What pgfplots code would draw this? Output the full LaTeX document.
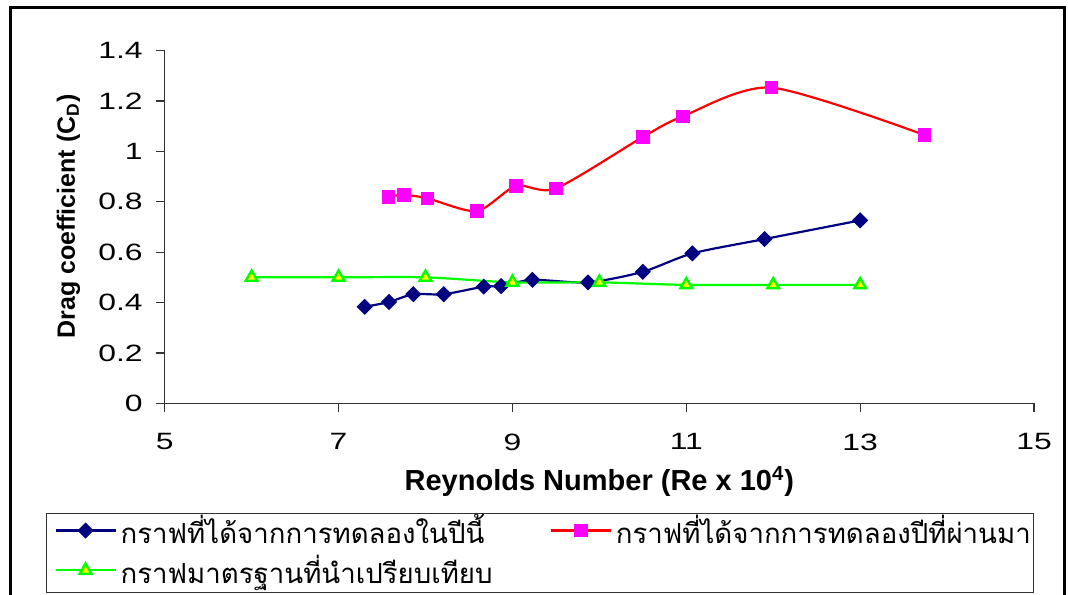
\documentclass[border=0pt]{standalone}
\usepackage{fontspec}
\usepackage{pgfplots}
\pgfplotsset{compat=1.18}
\setmainfont{Liberation Sans}
\newfontfamily\tickfont[FakeStretch=1.35]{Liberation Sans}
\newfontfamily\thaifont[Script=Thai]{Loma}

\definecolor{navyS}{RGB}{0,0,128}
\definecolor{magS}{RGB}{255,0,255}
\definecolor{redS}{RGB}{255,0,0}
\definecolor{limeS}{RGB}{0,255,0}
\definecolor{yelS}{RGB}{255,255,0}

% drag coefficient measured this year
\pgfplotstableread{
Re   Cd
7.30 0.383
7.58 0.402
7.86 0.433
8.21 0.433
8.67 0.463
8.87 0.465
9.23 0.490
9.87 0.480
10.50 0.522
11.07 0.595
11.90 0.652
13.00 0.726
}\thisyear
% drag coefficient measured last year
\pgfplotstableread{
Re   Cd
7.57 0.820
7.75 0.827
8.02 0.814
8.59 0.763
9.04 0.863
9.50 0.853
10.50 1.057
10.96 1.139
11.98 1.253
13.74 1.065
}\lastyear
% standard reference curve
\pgfplotstableread{
Re   Cd
6  0.50
7  0.50
8  0.50
9  0.48
10 0.48
11 0.47
12 0.47
13 0.47
}\standard

\begin{document}
\begin{tikzpicture}[x=1pt,y=1pt]
\useasboundingbox (0,0) rectangle (534,297);
% chart area border
\draw[line width=1.5pt] (5,-5) rectangle (532,293);
% legend frame
\draw[black!80, line width=0.5pt] (23,0.65) rectangle (516.5,40.5);
\begin{axis}[
  at={(82.35pt,95.35pt)}, anchor=south west,
  scale only axis, width=434.65pt, height=176.35pt,
  xmin=5, xmax=15, ymin=0, ymax=1.4,
  xtick={5,7,9,11,13,15},
  ytick={0,0.2,0.4,0.6,0.8,1,1.2,1.4},
  axis lines=left,
  axis line style={-, black!80, line width=0.6pt},
  tick align=outside,
  major tick length=4.5pt,
  tick style={black!80, line width=0.6pt},
  /pgf/number format/assume math mode=true,
  tick label style={font=\tickfont\fontsize{11.8}{13}\selectfont},
  xticklabel style={anchor=north, inner sep=0pt, yshift=-10.5pt},
  yticklabel style={anchor=east, inner sep=0pt, xshift=-6.35pt},
  every axis x label/.style={at={(axis description cs:0.5,-0.2478)}, anchor=base},
  every axis y label/.style={at={(axis description cs:-0.1032,0.5296)}, rotate=90, anchor=base},
  xlabel={\fontsize{14.5}{16}\selectfont\bfseries Reynolds Number (Re x 10\textsuperscript{4})},
  ylabel={\fontsize{12.5}{14}\selectfont\bfseries Drag coefficient (C\textsubscript{D})},
  legend columns=2,
  legend cell align=left,
  legend style={
    at={(axis description cs:-0.1388,-0.3025)}, anchor=north west,
    draw=none, fill=none,
    font=\thaifont\fontsize{13.8}{15}\selectfont,
    inner xsep=5pt, inner ysep=0pt, row sep=0pt,
    /tikz/every even column/.append style={column sep=26.5pt},
  },
  legend image code/.code={
    \draw[mark repeat=2, mark phase=2, #1]
      plot coordinates {(0pt,0pt) (15pt,0pt) (30pt,0pt)};
  },
]
\addplot[color=navyS, line width=1.1pt, smooth, tension=0.45,
  mark=square*, mark size=2.6pt,
  mark options={rotate=45, fill=navyS, draw=navyS, line width=0.5pt}]
  table[x=Re, y=Cd] {\thisyear};
\addlegendentry{กราฟที่ได้จากการทดลองในปีนี้}
\addplot[color=redS, line width=1.1pt, smooth, tension=0.45,
  mark=square*, mark size=3.1pt,
  mark options={fill=magS, draw=magS, line width=0.4pt}]
  table[x=Re, y=Cd] {\lastyear};
\addlegendentry{กราฟที่ได้จากการทดลองปีที่ผ่านมา}
\addplot[color=limeS, line width=1.1pt, smooth, tension=0.45,
  mark=triangle*, mark size=3.4pt,
  mark options={fill=yelS, draw=limeS, line width=1.2pt}]
  table[x=Re, y=Cd] {\standard};
\addlegendentry{กราฟมาตรฐานที่นำเปรียบเทียบ}
\end{axis}
\end{tikzpicture}
\end{document}
